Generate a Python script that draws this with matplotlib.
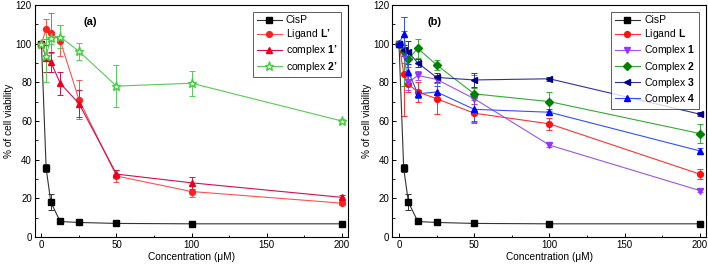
import matplotlib
matplotlib.use("Agg")
import matplotlib.pyplot as plt
from matplotlib.ticker import MultipleLocator

plt.rcParams['font.family'] = ['Liberation Sans', 'DejaVu Sans']
plt.rcParams['mathtext.fontset'] = 'custom'
plt.rcParams['mathtext.bf'] = 'Liberation Sans:bold'
plt.rcParams['mathtext.rm'] = 'Liberation Sans'

conc = [0, 3.125, 6.25, 12.5, 25, 50, 100, 200]

# Panel (a)
cisp = [100, 35.5, 18, 8, 7.5, 7, 6.8, 6.8]
cisp_err = [0, 2, 4, 1, 0.5, 0.5, 0.5, 0.5]
lig_a = [100, 107.5, 105.5, 101.5, 71, 31.5, 23.5, 17.5]
lig_a_err = [0, 5, 10.5, 8, 10, 3, 3, 1]
c1p = [100, 92.5, 90.5, 79.5, 69, 32.5, 28, 20.5]
c1p_err = [0, 7, 5, 6, 7, 2, 3, 1]
c2p = [100, 93.5, 103, 103.5, 96, 78, 79.5, 60]
c2p_err = [0, 13.5, 3, 6, 4.5, 11, 6.5, 1]

# Panel (b)
lig_b = [100, 84.5, 79, 75, 71.5, 64, 58.5, 32.5]
lig_b_err = [0, 22, 4, 5, 8, 5, 3, 2.5]
c1 = [100, 94, 80, 83.5, 81.5, 71.5, 47.5, 24]
c1_err = [0, 4, 4, 2.5, 2, 12, 1, 1]
c2 = [100, 96, 92, 97.5, 89, 74, 70, 53.5]
c2_err = [0, 18, 4, 5, 2.5, 3, 5, 5]
c3 = [100, 96.5, 95.5, 90, 82.5, 81.2, 81.8, 63.5]
c3_err = [0, 3, 6, 2, 2.5, 3.5, 1, 1]
c4 = [100, 105, 85.5, 74, 75, 66, 64.5, 44.5]
c4_err = [0, 9, 6, 2, 3, 6, 1.5, 1.5]

fig = plt.figure(figsize=(7.08, 2.73), dpi=100)
axa = fig.add_axes([0.049, 0.132, 0.442, 0.85])
axb = fig.add_axes([0.554, 0.132, 0.443, 0.85])

def series(ax, y, err, label, mcol, lcol, marker, ms=4.2, mfc=None):
    ax.errorbar(conc, y, yerr=err, color=lcol, ecolor=lcol, elinewidth=0.7,
                capsize=2, capthick=0.7, lw=0.8, marker=marker, ms=ms,
                mfc=mfc if mfc else mcol, mec=mcol, label=label)

series(axa, cisp, cisp_err, 'CisP', 'black', '#333333', 's')
series(axa, lig_a, lig_a_err, "Ligand $\\mathbf{L\u2019}$", '#ff2020', '#ff5050', 'o')
series(axa, c1p, c1p_err, "complex $\\mathbf{1\u2019}$", '#e8001c', '#d0104a', '^')
series(axa, c2p, c2p_err, "complex $\\mathbf{2\u2019}$", '#44cc44', '#55cc55', '*', ms=6.5, mfc='#ddffd0')

series(axb, cisp, cisp_err, 'CisP', 'black', '#333333', 's')
series(axb, lig_b, lig_b_err, r"Ligand $\mathbf{L}$", '#ff1010', '#ff3030', 'o')
series(axb, c1, c1_err, r"Complex $\mathbf{1}$", '#9933ff', '#9955ee', 'v')
series(axb, c2, c2_err, r"Complex $\mathbf{2}$", '#008000', '#33aa33', 'D', ms=3.8)
series(axb, c3, c3_err, r"Complex $\mathbf{3}$", '#000080', '#3030a0', '<')
series(axb, c4, c4_err, r"Complex $\mathbf{4}$", '#0000ff', '#3050ff', '^')

for ax, tag, tx in ((axa, '(a)', 0.176), (axb, '(b)', 0.134)):
    ax.set_xlim(-4.5, 204)
    ax.set_ylim(0, 120)
    ax.xaxis.set_major_locator(MultipleLocator(50))
    ax.xaxis.set_minor_locator(MultipleLocator(25))
    ax.yaxis.set_major_locator(MultipleLocator(20))
    ax.yaxis.set_minor_locator(MultipleLocator(10))
    ax.tick_params(which='both', direction='in', labelsize=7, pad=2)
    ax.tick_params(which='major', length=3, width=0.7)
    ax.tick_params(which='minor', length=1.8, width=0.6)
    for s in ax.spines.values():
        s.set_linewidth(0.8)
    ax.set_xlabel('Concentration (μM)', fontsize=7.3, labelpad=1.5)
    ax.set_ylabel('% of cell viability', fontsize=7.3, labelpad=1)
    ax.text(tx, 0.927, tag, transform=ax.transAxes, fontsize=8,
            fontweight='bold', ha='center', va='center')
    handles, labels = ax.get_legend_handles_labels()
    handles = [h[0] for h in handles]
    leg = ax.legend(handles, labels, loc='upper right', fontsize=7.5, frameon=True,
                    fancybox=False, edgecolor='#333333', handlelength=2.4,
                    handletextpad=0.4, borderpad=0.35, labelspacing=0.2,
                    borderaxespad=0.65)
    leg.get_frame().set_linewidth(0.7)

fig.savefig('out.png', dpi=100)
